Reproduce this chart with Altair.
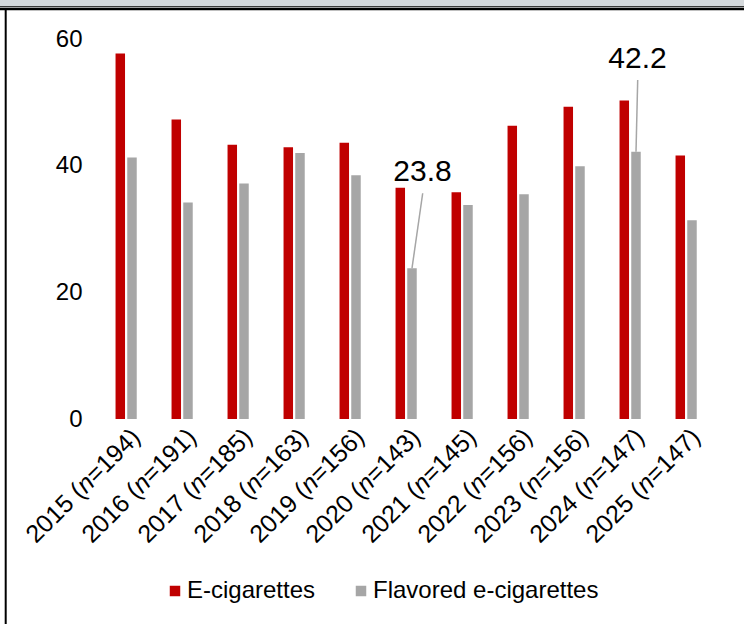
import altair as alt
import pandas as pd

# ---- data -------------------------------------------------------------
years = [2015, 2016, 2017, 2018, 2019, 2020, 2021, 2022, 2023, 2024, 2025]
sample_sizes = [194, 191, 185, 163, 156, 143, 145, 156, 156, 147, 147]
e_cigarettes = [57.7, 47.3, 43.3, 42.9, 43.6, 36.5, 35.8, 46.3, 49.3, 50.3, 41.6]
flavored_e_cigarettes = [41.3, 34.2, 37.2, 42.0, 38.5, 23.8, 33.8, 35.5, 39.9, 42.2, 31.4]
series_names = ["E-cigarettes", "Flavored e-cigarettes"]
series_colors = ["#c00000", "#a6a6a6"]
y_ticks = [0, 20, 40, 60]

categories = [f"{y} (n={n})" for y, n in zip(years, sample_sizes)]
rows = []
for cat, a, b in zip(categories, e_cigarettes, flavored_e_cigarettes):
    rows.append({"category": cat, "series": series_names[0], "value": a})
    rows.append({"category": cat, "series": series_names[1], "value": b})
df = pd.DataFrame(rows)

# tick-label pieces so that the "n" can be set in italics
label_df = pd.DataFrame({
    "category": categories,
    "head": [f"{y} (" for y in years],
    "mid": ["n" for _ in years],
    "tail": [f"={n})" for n in sample_sizes],
})

FONT = "Liberation Sans"
W, H = 616, 380
PAD = {"left": 104, "top": 39, "right": 24, "bottom": 205}
XLAB_SIZE = 25

# Arial / Liberation Sans advance widths (1/1000 em) for measuring label pieces
ADV = {"0": 556, "1": 556, "2": 556, "3": 556, "4": 556, "5": 556, "6": 556,
       "7": 556, "8": 556, "9": 556, "(": 333, ")": 333, "=": 584, "n": 556, " ": 278}


def text_width(s, size):
    return sum(ADV[c] for c in s) * size / 1000.0


base = alt.Chart(df)

x_enc = alt.X(
    "category:N",
    sort=categories,
    scale=alt.Scale(paddingInner=0, paddingOuter=0),
    axis=alt.Axis(
        title=None,
        ticks=False,
        labels=False,
        domainColor="#d9d9d9",
        domainWidth=2,
        grid=False,
    ),
)

bars = base.mark_bar().encode(
    x=x_enc,
    xOffset=alt.XOffset(
        "series:N",
        scale=alt.Scale(domain=series_names + [" "], paddingInner=0.19, paddingOuter=0.985),
    ),
    y=alt.Y(
        "value:Q",
        scale=alt.Scale(domain=[0, 60], nice=False, zero=True),
        axis=alt.Axis(
            title=None,
            values=y_ticks,
            domain=False,
            ticks=False,
            tickSize=0,
            grid=False,
            labelFont=FONT,
            labelFontSize=24,
            labelColor="#000000",
            labelPadding=22,
        ),
    ),
    color=alt.Color(
        "series:N",
        scale=alt.Scale(domain=series_names, range=series_colors),
        legend=alt.Legend(
            title=None,
            orient="none",
            direction="horizontal",
            legendX=59,
            legendY=540,
            symbolType="square",
            symbolSize=110,
            symbolStrokeWidth=0,
            labelFont=FONT,
            labelFontSize=24,
            labelColor="#000000",
            labelOffset=0,
            columnPadding=33,
            labelLimit=400,
        ),
    ),
)

# ---- rotated category labels (three pieces each) ----------------------
lab = alt.Chart(label_df)
tail_w = text_width("=194)", XLAB_SIZE)
mid_w = text_width("n", XLAB_SIZE)
lab_common = dict(font=FONT, fontSize=XLAB_SIZE, color="#000000", angle=315,
                  align="right", baseline="middle", xOffset=4)
lab_x = alt.X("category:N", sort=categories, axis=None)
lab_y = alt.value(H + 14)
lab_tail = lab.mark_text(**lab_common).encode(x=lab_x, y=lab_y, text="tail:N")
lab_mid = lab.mark_text(fontStyle="italic", dx=-tail_w, **lab_common).encode(
    x=lab_x, y=lab_y, text="mid:N")
lab_head = lab.mark_text(dx=-(tail_w + mid_w), **lab_common).encode(
    x=lab_x, y=lab_y, text="head:N")


def annotation(year, series, text_dx, text_dy, line_dx, line_dy):
    cat = categories[years.index(year)]
    src = base.transform_filter(
        (alt.datum.category == cat) & (alt.datum.series == series)
    )
    leader = src.mark_rule(color="#a6a6a6", strokeWidth=1.5, x2Offset=line_dx, y2Offset=line_dy).encode(
        x=alt.X("category:N", sort=categories),
        xOffset=alt.XOffset("series:N"),
        y="value:Q",
        x2=alt.X2("category:N"),
        y2=alt.Y2("value:Q"),
    )
    label = src.mark_text(
        font=FONT, fontSize=30, color="#000000", dx=text_dx, dy=text_dy, baseline="middle"
    ).encode(
        x=alt.X("category:N", sort=categories),
        y="value:Q",
        text=alt.Text("value:Q", format=".1f"),
    )
    return [leader, label]


deco_df = pd.DataFrame({"k": [0]})
deco = alt.Chart(deco_df)
top_band = deco.mark_rect(color="#d5d9dc").encode(
    x=alt.value(-PAD["left"]), x2=alt.value(W + PAD["right"]),
    y=alt.value(-PAD["top"]), y2=alt.value(-PAD["top"] + 6),
)
top_line1 = deco.mark_rule(color="#3a3a3a", strokeWidth=1).encode(
    x=alt.value(-PAD["left"]), x2=alt.value(W + PAD["right"]), y=alt.value(-PAD["top"] + 6.5)
)
top_line2 = deco.mark_rule(color="#a0a0a0", strokeWidth=1).encode(
    x=alt.value(-PAD["left"]), x2=alt.value(W + PAD["right"]), y=alt.value(-PAD["top"] + 7.5)
)
top_line3 = deco.mark_rule(color="#000000", strokeWidth=2.2).encode(
    x=alt.value(-PAD["left"]), x2=alt.value(W + PAD["right"]), y=alt.value(-PAD["top"] + 9.2)
)
left_line = deco.mark_rule(color="#000000", strokeWidth=2).encode(
    x=alt.value(-PAD["left"] + 5.7), y=alt.value(-PAD["top"] + 8.5), y2=alt.value(H + PAD["bottom"])
)

layers = [top_band, top_line1, top_line2, top_line3, left_line, bars, lab_tail, lab_mid, lab_head]
layers += annotation(2020, series_names[1], 10.5, -96, 10.7, -75)
layers += annotation(2024, series_names[1], 1.5, -92.7, 1.7, -71.7)

chart = (
    alt.layer(*layers)
    .properties(
        width=W,
        height=H,
        padding=PAD,
        autosize=alt.AutoSizeParams(type="none"),
        background="#ffffff",
    )
    .configure_view(stroke=None)
)

chart.save("out.html", embed_options={"renderer": "svg", "actions": False})
